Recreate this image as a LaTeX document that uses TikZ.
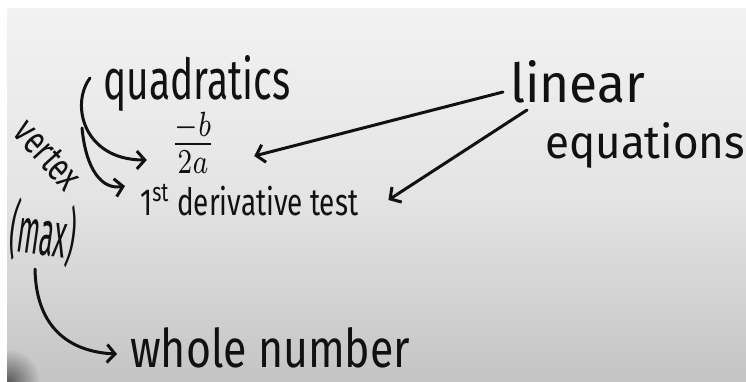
\documentclass[tikz,border=0pt]{standalone}
\usepackage{fontspec}
\setmainfont{Fira Sans}
\usetikzlibrary{arrows.meta,calc}
\definecolor{boardtop}{HTML}{F2F2F2}
\definecolor{boardmid}{HTML}{E4E4E4}
\definecolor{boardbot}{HTML}{C4C4C4}
\definecolor{ink}{HTML}{111111}
\tikzset{
  txt/.style={inner sep=0pt, anchor=base west, text=ink},
  conn/.style={draw=ink, line width=3pt, line cap=round,
    -{Straight Barb[length=8pt,width=18pt,line width=3pt]}},
}
\begin{document}
\begin{tikzpicture}[x=1pt,y=-1pt]
\useasboundingbox (0,0) rectangle (746,382);
\fill[white] (0,0) rectangle (746,382);
\shade[top color=boardtop, bottom color=boardbot, middle color=boardmid] (7,9) rectangle (746,382);
\shade[inner color=black!65, outer color=boardbot] (8,382) circle (32);
\fill[white] (0,330) rectangle (7,382);
% texts
\node[txt] (quad) at (103,100) {\resizebox{187pt}{44pt}{quadratics}};
\node[txt] (lin) at (510,103) {\resizebox{135pt}{42pt}{linear}};
\node[txt] (equ) at (545,158) {\resizebox{200pt}{36pt}{equations}};
\node[txt] (deriv) at (140,215) {\resizebox{218pt}{31pt}{1\textsuperscript{st} derivative test}};
\node[txt] (whole) at (130,367) {\resizebox{280pt}{40pt}{whole number}};
\node[inner sep=0pt, text=ink] (frac) at (193,143) {\resizebox{46pt}{44pt}{$\frac{-b}{2a}$}};
\node[inner sep=0pt, text=ink, rotate=-48] (vert) at (48,155) {\resizebox{80pt}{26pt}{vertex}};
\node[inner sep=0pt, text=ink, rotate=-8] (max) at (43,233) {\resizebox{66pt}{54pt}{(max)}};
% connector ends
\coordinate (q1) at ($(quad.base west)+(-13,-22)$);
\coordinate (q2) at ($(quad.base west)+(-21,28)$);
\coordinate (l1) at ($(lin.base west)+(-7,-11)$);
\coordinate (l2) at ($(lin.base west)+(17,7)$);
\coordinate (v1) at ($(max.center)+(-8,36)$);
% connectors
\draw[conn] (q1) .. controls (70,105) and (84,160) .. ($(frac.west)+(-23,17)$);
\draw[conn] (q2) .. controls (86,170) and (102,190) .. ($(deriv.base west)+(-15,-29)$);
\draw[conn] (l1) -- ($(frac.east)+(38,13)$);
\draw[conn] (l2) -- ($(deriv.base east)+(30,-15)$);
\draw[conn] (v1) .. controls (36,330) and (72,352) .. ($(whole.base west)+(-13,-13)$);
\end{tikzpicture}
\end{document}
